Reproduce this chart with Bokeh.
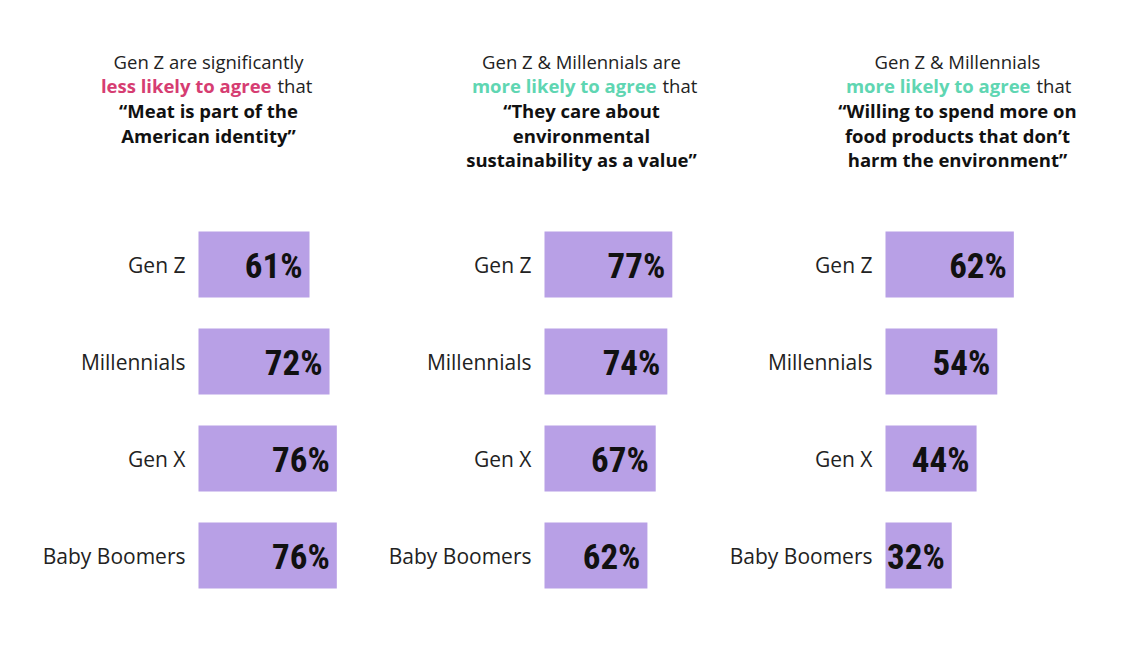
from bokeh.plotting import figure
from bokeh.layouts import row
from bokeh.models import Range1d
from bokeh.core.properties import value
from bokeh.embed import file_html
from bokeh.resources import INLINE

# ---------------- data ----------------
generations = ["Gen Z", "Millennials", "Gen X", "Baby Boomers"]
meat_identity = [61, 72, 76, 76]
care_sustainability = [77, 74, 67, 62]
spend_more = [62, 54, 44, 32]

titles = [
    ("Gen Z are significantly", "less likely to agree", "that",
     ["\u201cMeat is part of the", "American identity\u201d"]),
    ("Gen Z & Millennials are", "more likely to agree", "that",
     ["\u201cThey care about", "environmental", "sustainability as a value\u201d"]),
    ("Gen Z & Millennials", "more likely to agree", "that",
     ["\u201cWilling to spend more on", "food products that don\u2019t", "harm the environment\u201d"]),
]
highlight_colors = ["#d63d72", "#5fd6b2", "#5fd6b2"]
series = [meat_identity, care_sustainability, spend_more]

# ---------------- layout (pixels of the page) ----------------
PAGE_TOP, PAGE_BOTTOM = 0, 640
ROW0_Y, ROW_STEP = 264, 97          # centre of first bar row, spacing
panels = [
    # left edge, bar origin, right edge, px per percent, title centre, split x of line 2
    dict(L=0, B=198, R=364, s=1.82, C=208, S=274),
    dict(L=364, B=544, R=712, s=1.66, C=581, S=659),
    dict(L=712, B=885, R=1123, s=2.07, C=957, S=1033),
]
TITLE_Y = [61, 85, 110, 135, 159]

BAR_COLOR = "#b8a0e6"
FONT = value("Open Sans")
NUM_FONT = value("Roboto Condensed, DejaVu Sans Condensed, Roboto")

figs = []
for k, pan in enumerate(panels):
    w = pan["R"] - pan["L"]
    h = PAGE_BOTTOM - PAGE_TOP
    xr = Range1d(-(pan["B"] - pan["L"]) / pan["s"], (pan["R"] - pan["B"]) / pan["s"])
    yr = Range1d((PAGE_BOTTOM - ROW0_Y) / ROW_STEP, -(ROW0_Y - PAGE_TOP) / ROW_STEP)
    p = figure(width=w, height=h, x_range=xr, y_range=yr,
               output_backend="svg", toolbar_location=None,
               x_axis_location=None, y_axis_location=None,
               min_border=0, outline_line_color=None)
    p.grid.visible = False
    p.background_fill_color = "white"
    p.border_fill_color = "white"

    vals = series[k]
    ys = list(range(len(generations)))
    src = dict(y=ys, v=vals, lab=[f"{v}%" for v in vals], cat=generations)

    p.hbar(y="y", left=0, right="v", height=0.68, source=src,
           fill_color=BAR_COLOR, line_color=None)
    p.text(x="v", y="y", text="lab", source=src, x_offset=-7, y_offset=2,
           text_align="right", text_baseline="middle",
           text_font=NUM_FONT, text_font_style="bold",
           text_font_size="35px", text_color="#111111")
    p.text(x=0, y="y", text="cat", source=src, x_offset=-13,
           text_align="right", text_baseline="middle",
           text_font=FONT, text_font_size="21px", text_color="#222222")

    # titles
    l1, hl, tail, rest = titles[k]
    def ty(i):
        return (TITLE_Y[i] - ROW0_Y) / ROW_STEP
    cx = (pan["C"] - pan["B"]) / pan["s"]
    p.text(x=[cx], y=[ty(0)], text=[l1], text_align="center", text_baseline="middle",
           text_font=FONT, text_font_size="18.5px", text_color="#222222")
    sx = (pan["S"] - pan["B"]) / pan["s"]
    p.text(x=[sx], y=[ty(1)], text=[hl], x_offset=-3, text_align="right",
           text_baseline="middle", text_font=FONT, text_font_style="bold",
           text_font_size="18.5px", text_color=highlight_colors[k])
    p.text(x=[sx], y=[ty(1)], text=[tail], x_offset=3, text_align="left",
           text_baseline="middle", text_font=FONT,
           text_font_size="18.5px", text_color="#222222")
    p.text(x=[cx] * len(rest), y=[ty(2 + i) for i in range(len(rest))], text=rest,
           text_align="center", text_baseline="middle", text_font=FONT,
           text_font_style="bold", text_font_size="18.5px", text_color="#111111")
    figs.append(p)

layout = row(*figs, spacing=0)
open("out.html", "w").write(file_html(layout, INLINE))
